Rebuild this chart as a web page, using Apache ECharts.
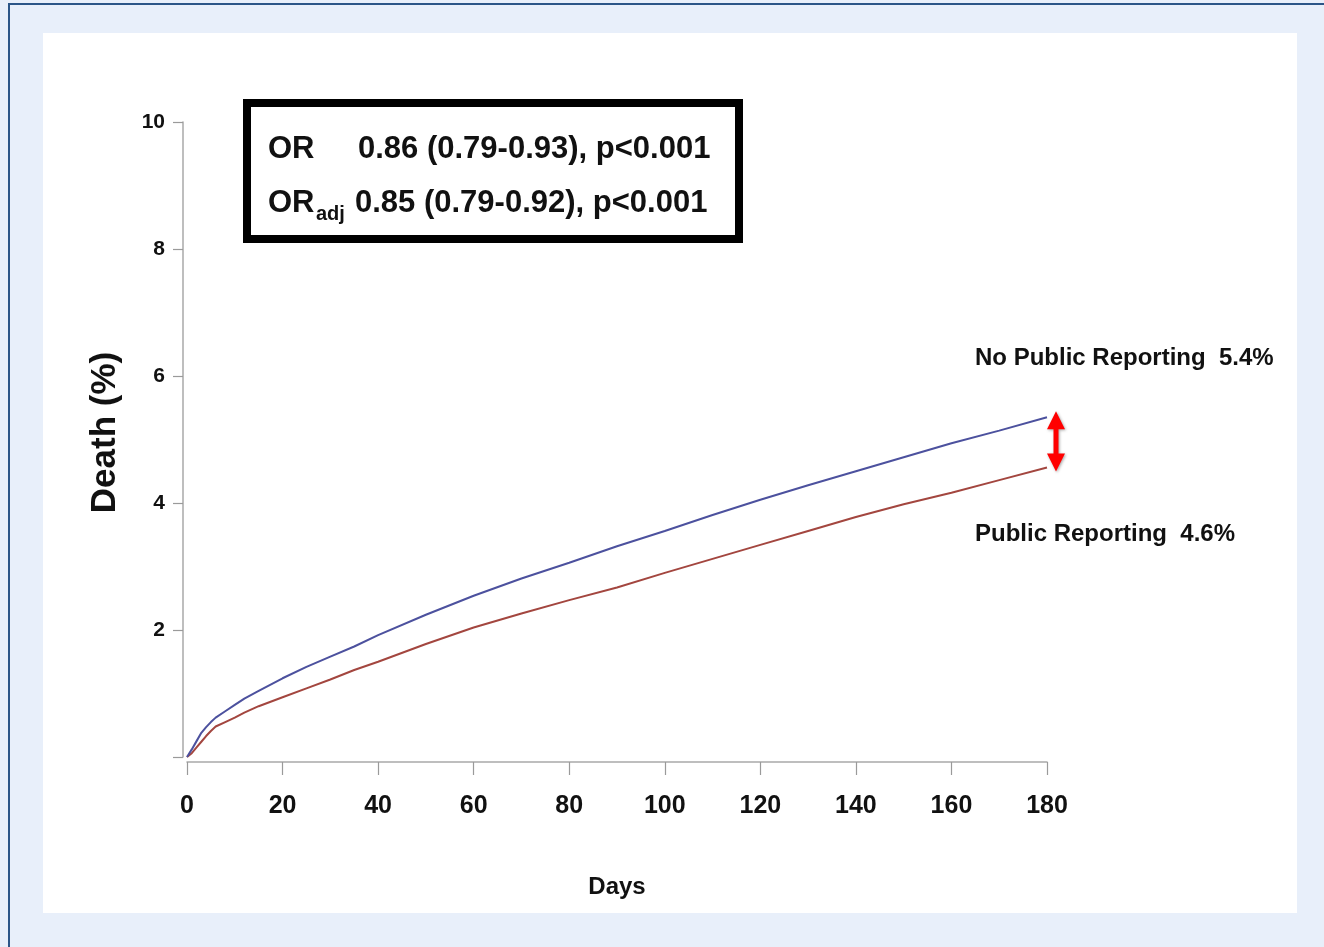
<!DOCTYPE html>
<html><head><meta charset="utf-8">
<script src="https://cdn.jsdelivr.net/npm/echarts@6/dist/echarts.min.js"></script>
<style>
html,body{margin:0;padding:0;width:1324px;height:947px;overflow:hidden;background:#e8effa;}
#frame{position:absolute;left:8px;top:3px;width:1316px;height:944px;border-left:2px solid #2b5587;border-top:2px solid #2b5587;box-sizing:border-box;}
#panel{position:absolute;left:43px;top:33px;width:1254px;height:880px;background:#fff;}
#chart{position:absolute;left:0;top:0;width:1324px;height:947px;}
</style></head><body>
<div id="frame"></div><div id="panel"></div><div id="chart"></div>
<script>
// ---- data ----
const days       = [0, 1, 2, 3, 4, 5, 6, 8, 10, 12, 15, 20, 25, 30, 35, 40, 50, 60, 70, 80, 90, 100, 110, 120, 130, 140, 150, 160, 170, 180];
const noPublic   = [0, 0.12, 0.25, 0.38, 0.47, 0.55, 0.62, 0.72, 0.82, 0.92, 1.04, 1.24, 1.42, 1.58, 1.74, 1.92, 2.24, 2.54, 2.81, 3.06, 3.32, 3.56, 3.81, 4.05, 4.28, 4.50, 4.72, 4.94, 5.14, 5.35];
const publicRep  = [0, 0.06, 0.15, 0.24, 0.33, 0.41, 0.48, 0.55, 0.62, 0.70, 0.80, 0.94, 1.08, 1.22, 1.37, 1.50, 1.78, 2.04, 2.26, 2.47, 2.67, 2.90, 3.12, 3.34, 3.56, 3.78, 3.98, 4.16, 4.36, 4.56];
const xTickLabels = ['0', '20', '40', '60', '80', '100', '120', '140', '160', '180'];
const yTickLabels = ['', '2', '4', '6', '8', '10'];
const seriesNames = ['No Public Reporting', 'Public Reporting'];
const endLabels   = ['No Public Reporting  5.4%', 'Public Reporting  4.6%'];
const orLine1 = ['OR', '0.86 (0.79-0.93), p<0.001'];
const orLine2 = ['OR', 'adj', '0.85 (0.79-0.92), p<0.001'];

(function () {
const SANS = '"Liberation Sans", Arial, Helvetica, sans-serif';

const chart = echarts.init(document.getElementById('chart'), null, {renderer: 'canvas'});

const option = {
  backgroundColor: 'transparent',
  animation: false,
  grid: {left: 187, top: 122, width: 860, height: 635, containLabel: false},
  xAxis: {
    type: 'value', min: 0, max: 180, interval: 20, offset: 5,
    name: 'Days', nameLocation: 'middle', nameGap: 113,
    nameTextStyle: {fontFamily: SANS, fontWeight: 'bold', fontSize: 24, color: '#111'},
    axisLine: {show: true, onZero: false, lineStyle: {color: '#a9a9a9', width: 1.5}},
    axisTick: {show: true, length: 13, lineStyle: {color: '#9a9a9a', width: 1.2}},
    axisLabel: {margin: 32, fontFamily: SANS, fontWeight: 'bold', fontSize: 25, color: '#111',
      formatter: v => xTickLabels[Math.round(v / 20)]},
    splitLine: {show: false}
  },
  yAxis: {
    type: 'value', min: 0, max: 10, interval: 2, offset: 4,
    name: 'Death (%)', nameLocation: 'middle', nameGap: 60, nameRotate: 90,
    nameTextStyle: {fontFamily: SANS, fontWeight: 'bold', fontSize: 35, color: '#111', padding: [0, 0, 0, 14]},
    axisLine: {show: true, onZero: false, lineStyle: {color: '#a9a9a9', width: 1.5}},
    axisTick: {show: true, length: 10, lineStyle: {color: '#9a9a9a', width: 1.2}},
    axisLabel: {margin: 18, fontFamily: SANS, fontWeight: 'bold', fontSize: 21, color: '#111',
      padding: [0, 0, 8, 0],
      formatter: v => yTickLabels[Math.round(v / 2)]},
    splitLine: {show: false}
  },
  series: [
    {name: seriesNames[1], type: 'line', showSymbol: false, z: 3,
     lineStyle: {color: '#a3463f', width: 2},
     data: days.map((d, i) => [d, publicRep[i]])},
    {name: seriesNames[0], type: 'line', showSymbol: false, z: 4,
     lineStyle: {color: '#4c519e', width: 2},
     data: days.map((d, i) => [d, noPublic[i]])}
  ]
};
chart.setOption(option);

// annotations positioned relative to the curve end points
const last = days.length - 1;
const pB = chart.convertToPixel({gridIndex: 0}, [days[last], noPublic[last]]);
const pR = chart.convertToPixel({gridIndex: 0}, [days[last], publicRep[last]]);
const cx = pB[0] + 9, yTop = pB[1] - 6, yBot = pR[1] + 4, hh = 18, hw = 9, sw = 2.5;

const txt = (x, y, text, font) => ({
  type: 'text', x: x, y: y, z: 10,
  style: {text: text, font: font, fill: '#111', verticalAlign: 'middle', align: 'left'}
});

chart.setOption({
  graphic: [
    {type: 'rect', z: 9, shape: {x: 247, y: 103, width: 492, height: 136},
     style: {fill: '#fff', stroke: '#000', lineWidth: 8}},
    txt(268, 149, orLine1[0], 'bold 31px ' + SANS),
    txt(358, 149, orLine1[1], 'bold 31px ' + SANS),
    txt(268, 203, orLine2[0], 'bold 31px ' + SANS),
    txt(316, 214, orLine2[1], 'bold 20px ' + SANS),
    txt(355, 203, orLine2[2], 'bold 31px ' + SANS),
    txt(pB[0] - 72, pB[1] - 59, endLabels[0], 'bold 24px ' + SANS),
    txt(pR[0] - 72, pR[1] + 67, endLabels[1], 'bold 24px ' + SANS),
    {type: 'polygon', z: 10,
     shape: {points: [[cx, yTop], [cx + hw, yTop + hh], [cx + sw, yTop + hh], [cx + sw, yBot - hh], [cx + hw, yBot - hh],
                      [cx, yBot], [cx - hw, yBot - hh], [cx - sw, yBot - hh], [cx - sw, yTop + hh], [cx - hw, yTop + hh]]},
     style: {fill: '#ff0000', shadowBlur: 3, shadowOffsetX: 1, shadowOffsetY: 1, shadowColor: 'rgba(0,0,0,0.35)'}}
  ]
});
})();
</script>
</body></html>
